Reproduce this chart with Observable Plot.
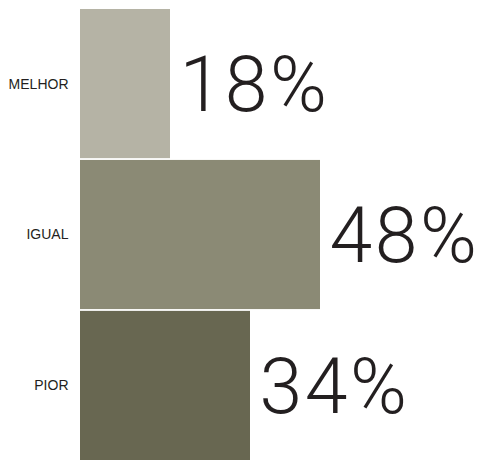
<!DOCTYPE html>
<html><head><meta charset="utf-8">
<script src="https://cdn.jsdelivr.net/npm/d3@7"></script>
<script src="https://cdn.jsdelivr.net/npm/@observablehq/plot@0.6"></script>
<style>body{margin:0;background:#fff;} svg{display:block;} .big text{letter-spacing:2.5px;}</style>
</head><body><div id="chart"></div>
<script>
const categories = ["MELHOR", "IGUAL", "PIOR"];
const values = [18, 48, 34];
const colors = ["#b5b3a5", "#8b8a75", "#686751"];
const labels = ["18%", "48%", "34%"];
const data = categories.map((c, i) => ({cat: c, value: values[i], color: colors[i], label: labels[i]}));

const chart = Plot.plot({
  width: 484, height: 460,
  marginLeft: 80, marginTop: 9, marginBottom: 0, marginRight: 0,
  x: {domain: [0, 80.8], axis: null},
  y: {domain: categories, paddingInner: 0.012, paddingOuter: 0, round: false, label: null},
  style: {fontFamily: "'Liberation Sans', Arial, sans-serif", fontSize: "14px", color: "#231f20"},
  marks: [
    Plot.barX(data, {y: "cat", x: "value", fill: "color"}),
    Plot.text(data, {y: "cat", x: "value", text: "label", textAnchor: "start", dx: 9, dy: 2,
      fontSize: 77, fontWeight: 300, fontFamily: "Roboto, sans-serif", fill: "#231f20",
      className: "big"}),
    Plot.axisY({tickSize: 0, tickPadding: 12, label: null, fill: "#231f20", fontSize: 14})
  ]
});
document.getElementById("chart").appendChild(chart);
</script></body></html>
